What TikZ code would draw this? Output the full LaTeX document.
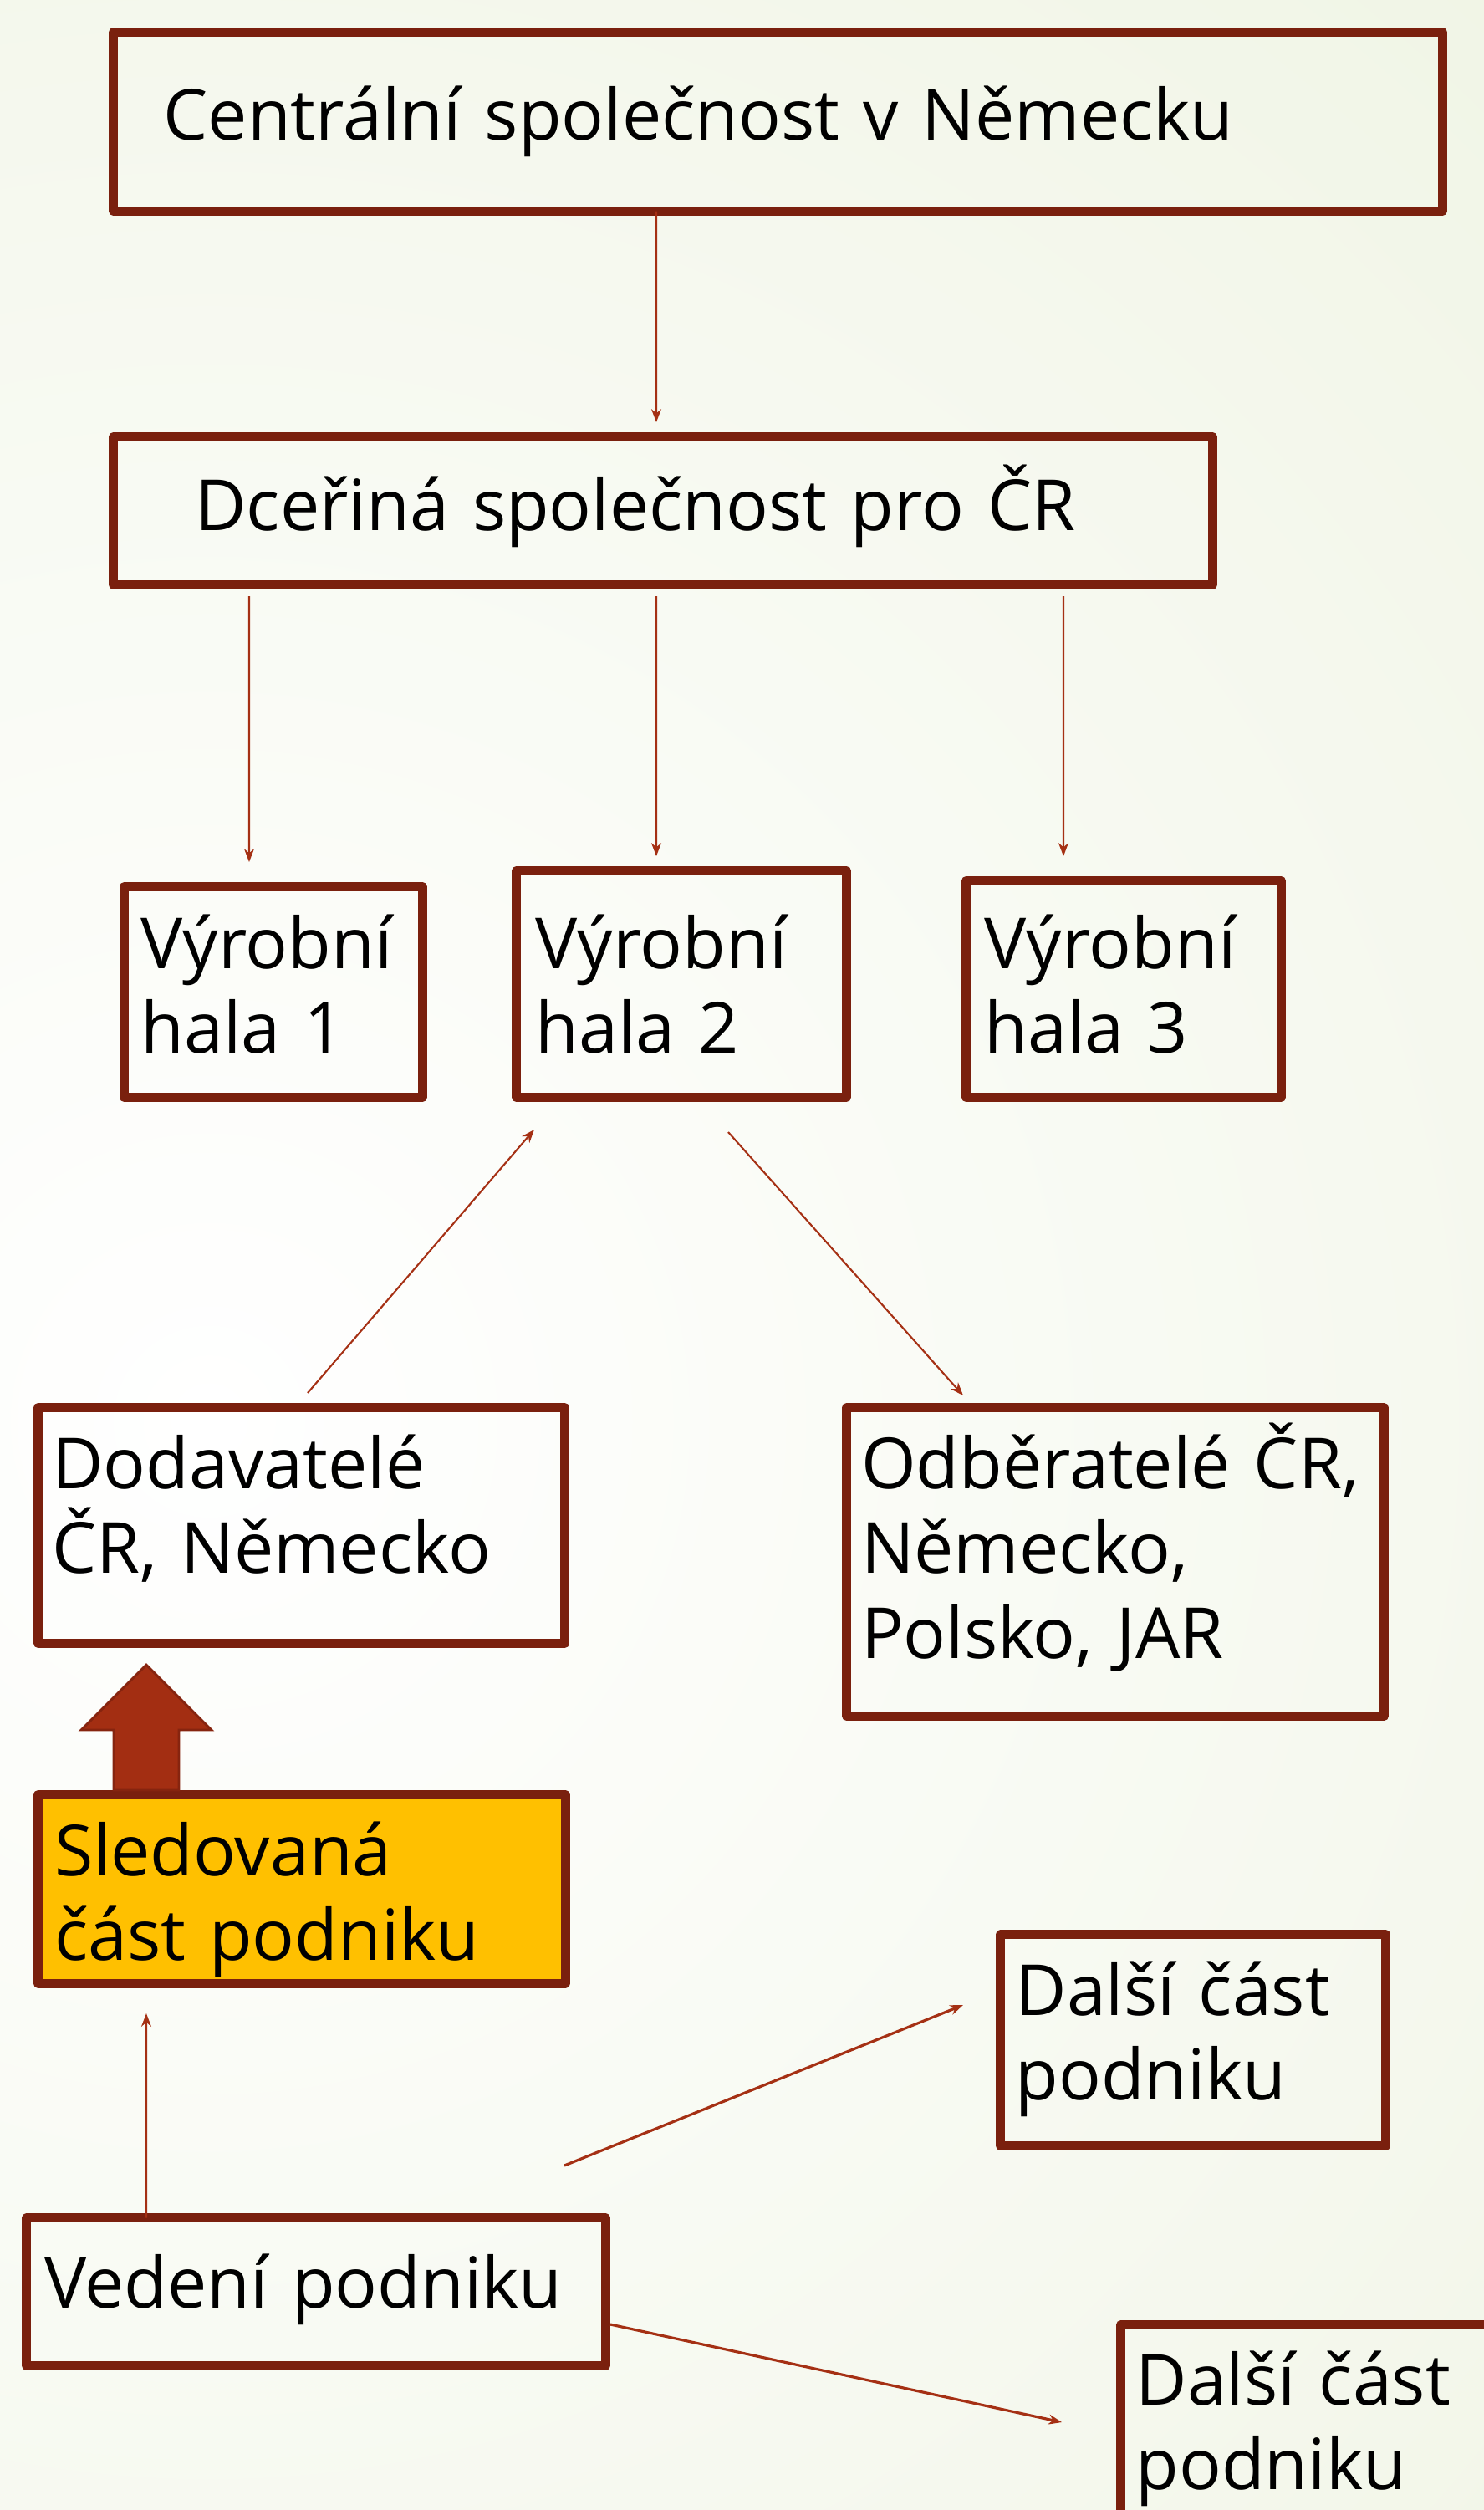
\documentclass[tikz,border=0pt]{standalone}
\usepackage{fontspec}
\setmainfont{Open Sans}
\usetikzlibrary{arrows.meta}
\definecolor{ramec}{RGB}{122,32,14}
\definecolor{cara}{RGB}{165,48,20}
\definecolor{plnasipka}{RGB}{163,46,18}
\definecolor{zluta}{RGB}{255,192,0}
\definecolor{pozadi}{RGB}{226,235,205}
\hyphenpenalty=10000
\begin{document}
\begin{tikzpicture}[
    blok/.style={draw=ramec, line width=0.11cm, line join=round, align=left, anchor=north west,
                 outer sep=0pt, inner ysep=0pt, inner xsep=0.2cm, font=\fontsize{24}{29}\selectfont},
    sipka/.style={draw=cara, line width=0.6pt, -{Stealth[length=4.5pt,width=3.4pt]}},
    velka/.style={fill=plnasipka, draw=ramec!70!plnasipka, line width=0.8pt, line join=miter}
  ]
    \useasboundingbox (0,0) rectangle (17.74,-30.02);
    \shade[inner color=white, outer color=pozadi] (2.5,-17) circle (46);

    \node[blok, inner xsep=0.60cm, text width=14.70cm, text height=1.295cm, text depth=0.845cm] (centrala)   at ( 1.355, -0.385) {Centrální společnost v~Německu};
    \node[blok, inner xsep=0.98cm, text width=11.19cm, text height=1.115cm, text depth=0.655cm] (dcerina)    at ( 1.355, -5.225) {Dceřiná společnost pro~ČR};
    \node[blok,                    text width=3.17cm,  text height=0.975cm, text depth=1.545cm] (hala1)      at ( 1.485,-10.605) {Výrobní\\hala~1};
    \node[blok, inner xsep=0.23cm, text width=3.49cm,  text height=1.165cm, text depth=1.545cm] (hala2)      at ( 6.175,-10.415) {Výrobní\\hala~2};
    \node[blok, inner xsep=0.22cm, text width=3.33cm,  text height=1.045cm, text depth=1.545cm] (hala3)      at (11.555,-10.535) {Výrobní\\hala~3};
    \node[blok, inner xsep=0.17cm, text width=5.96cm,  text height=0.965cm, text depth=1.855cm] (dodavatele) at ( 0.455,-16.835) {Dodavatelé\\ČR,~Německo};
    \node[blok, inner xsep=0.175cm,text width=6.08cm,  text height=0.965cm, text depth=2.725cm] (odberatele) at (10.125,-16.835) {Odběratelé~ČR,\\Německo,\\Polsko,~JAR};
    \node[blok, fill=zluta, inner xsep=0.195cm, text width=5.92cm, text height=0.965cm, text depth=1.295cm] (sledovana) at (0.455,-21.465) {Sledovaná\\část~podniku};
    \node[blok, inner xsep=0.18cm, text width=4.25cm,  text height=0.965cm, text depth=1.565cm] (dalsi1)     at (11.965,-23.135) {Další~část\\podniku};
    \node[blok, inner xsep=0.215cm,text width=6.50cm,  text height=1.075cm, text depth=0.695cm] (vedeni)     at ( 0.315,-26.525) {Vedení~podniku};
    \node[blok, inner xsep=0.18cm, text width=4.25cm,  text height=0.955cm, text depth=1.575cm] (dalsi2)     at (13.405,-27.805) {Další~část\\podniku};

    \draw[sipka] ([xshift=-1.455cm]centrala.south)               to ([xshift=-0.08cm,yshift=0.175cm]dcerina.north);
    \draw[sipka] ([xshift=-4.95cm,yshift=-0.135cm]dcerina.south) to ([xshift=-0.29cm,yshift=0.295cm]hala1.north);
    \draw[sipka] ([xshift=-0.08cm,yshift=-0.135cm]dcerina.south) to ([xshift=-0.30cm,yshift=0.175cm]hala2.north);
    \draw[sipka] ([xshift=4.79cm,yshift=-0.135cm]dcerina.south)  to ([xshift=-0.72cm,yshift=0.295cm]hala3.north);
    \draw[sipka] ([xshift=0.075cm,yshift=0.175cm]dodavatele.north) to ([xshift=0.215cm,yshift=-0.385cm]hala2.south west);
    \draw[sipka] ([xshift=0.56cm,yshift=-0.415cm]hala2.south)    to ([xshift=1.395cm,yshift=0.145cm]odberatele.north west);
    \draw[sipka] ([xshift=-2.03cm]vedeni.north)                  to ([xshift=-1.86cm,yshift=-0.355cm]sledovana.south);
    \draw[sipka, line width=0.9pt] ([xshift=-0.495cm,yshift=0.625cm]vedeni.north east) to ([xshift=-0.445cm,yshift=0.42cm]dalsi1.west);
    \draw[sipka, line width=0.9pt] ([xshift=0.055cm,yshift=-0.39cm]vedeni.east)       to ([xshift=-0.705cm,yshift=0.10cm]dalsi2.west);

    \draw[velka] ([xshift=0.905cm,yshift=0.055cm]sledovana.north west) -- ++(0,0.72) -- ++(-0.39,0) -- ++(0.78,0.78)
                 -- ++(0.78,-0.78) -- ++(-0.39,0) -- ++(0,-0.72) -- cycle;
\end{tikzpicture}
\end{document}
